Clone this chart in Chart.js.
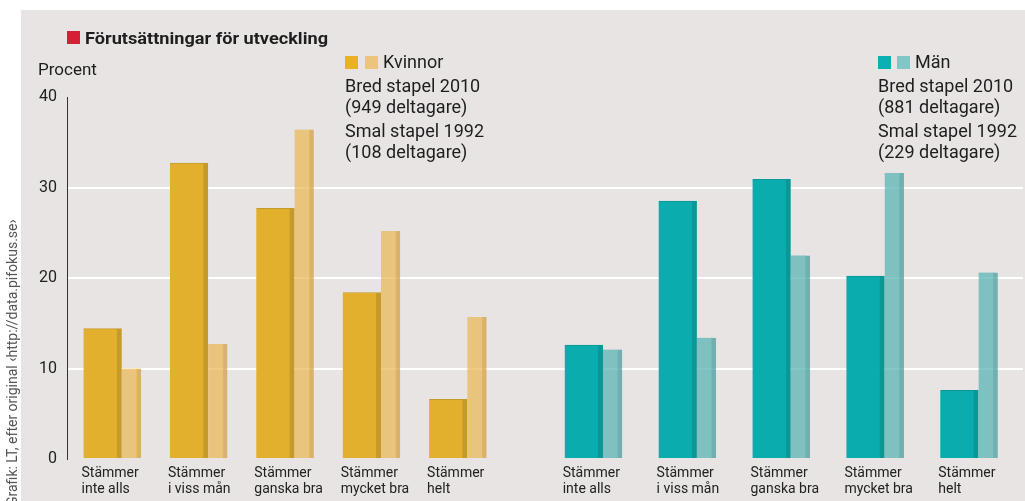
<!DOCTYPE html>
<html><head><meta charset="utf-8">
<script src="https://cdn.jsdelivr.net/npm/chart.js@4.4.1/dist/chart.umd.min.js"></script>
<style>
body{margin:0;background:#fff}
#wrap{position:relative;width:1025px;height:501px;overflow:hidden;background:#fff;font-family:Roboto,sans-serif;color:#1e1e1e}
#panel{position:absolute;left:21px;top:10px;right:0;bottom:0;background:#e7e4e3}
canvas{position:absolute;left:0;top:0}
.t{position:absolute;white-space:nowrap}
.sq{position:absolute;width:13px;height:13px}
.lg{font-size:18px;line-height:22px}
</style></head>
<body>
<div id="wrap">
<div id="panel"></div>
<canvas id="c" width="1025" height="501"></canvas>
<div class="sq" style="left:67px;top:31px;background:#d51f35"></div>
<div class="t" id="title" style="left:85px;top:28px;font-size:17px;font-weight:700;line-height:20px;transform-origin:left top">Förutsättningar för utveckling</div>
<div class="t" style="left:38px;top:59px;font-size:17px;line-height:20px">Procent</div>

<div class="sq" style="left:345px;top:56px;background:#e8b126"></div>
<div class="sq" style="left:365px;top:56px;background:#ecc57d"></div>
<div class="t lg" style="left:383px;top:51px">Kvinnor</div>
<div class="t lg" style="left:345px;top:75px">Bred stapel 2010</div>
<div class="t lg" style="left:345px;top:96px">(949 deltagare)</div>
<div class="t lg" style="left:345px;top:120px">Smal stapel 1992</div>
<div class="t lg" style="left:345px;top:141px">(108 deltagare)</div>

<div class="sq" style="left:878px;top:56px;background:#0ab0b4"></div>
<div class="sq" style="left:897px;top:56px;background:#82c6c8"></div>
<div class="t lg" style="left:915px;top:51px">Män</div>
<div class="t lg" style="left:878px;top:75px">Bred stapel 2010</div>
<div class="t lg" style="left:878px;top:96px">(881 deltagare)</div>
<div class="t lg" style="left:878px;top:120px">Smal stapel 1992</div>
<div class="t lg" style="left:878px;top:141px">(229 deltagare)</div>

<div class="t" style="left:4px;top:506px;font-size:14px;line-height:16px;color:#555;transform:rotate(-90deg);transform-origin:left top">Grafik: LT, efter original ‹http://data.pifokus.se›</div>
</div>
<script>
// ---- data ----
const categories = [
  ['Stämmer', 'inte alls'],
  ['Stämmer', 'i viss mån'],
  ['Stämmer', 'ganska bra'],
  ['Stämmer', 'mycket bra'],
  ['Stämmer', 'helt']
];
const women2010 = [14.4, 32.7, 27.7, 18.4, 6.6];
const women1992 = [10.0, 12.7, 36.4, 25.2, 15.7];
const men2010 = [12.6, 28.5, 30.9, 20.2, 7.6];
const men1992 = [12.1, 13.4, 22.5, 31.6, 20.6];
const yTicks = [0, 10, 20, 30, 40];

// fit title width
const title = document.getElementById('title');
const tw = title.getBoundingClientRect().width;
title.style.transform = 'scaleX(' + (243 / tw) + ')';

const LABEL_H = 42;
function sizer(h) {
  return s => { s.paddingLeft = 0; s.paddingRight = 0; s.height = h; };
}
function spacer(stack, w, order, h) {
  return {
    type: 'category', labels: [''], position: 'bottom', stack: stack, stackWeight: w, weight: order,
    display: true, grid: { display: false, drawTicks: false }, border: { display: false },
    ticks: { display: false }, afterFit: sizer(h)
  };
}
function catAxis(stack, w, order, showLabels) {
  const ax = {
    type: 'category', labels: categories, position: 'bottom', stack: stack, stackWeight: w, weight: order,
    offset: false, display: true,
    grid: { display: false, drawTicks: false }, border: { display: false },
    afterFit: sizer(showLabels ? LABEL_H : 0)
  };
  ax.ticks = showLabels ? {
    display: true, autoSkip: false, maxRotation: 0, minRotation: 0,
    align: 'start', labelOffset: -21, padding: 7, color: '#222',
    font: { family: 'Roboto', size: 14, lineHeight: 1.1 }
  } : { display: false };
  return ax;
}
function barSet(label, data, axis, thickness, bg, border, rightW, topW) {
  return {
    label: label, data: data, xAxisID: axis, grouped: false, clip: false,
    barThickness: thickness, backgroundColor: bg, borderColor: border,
    borderWidth: { left: 0, right: rightW, top: topW, bottom: 0 }, borderSkipped: false
  };
}

new Chart(document.getElementById('c'), {
  type: 'bar',
  data: {
    datasets: [
      barSet('Kvinnor 2010', women2010, 'xW', 38, '#e3b02e', '#c49a2b', 5, 1),
      barSet('Kvinnor 1992', women1992, 'xWn', 19, 'rgba(234,185,90,0.75)', 'rgba(212,159,71,0.75)', 4, 0),
      barSet('Män 2010', men2010, 'xM', 38, '#0aacad', '#0a9795', 5, 1),
      barSet('Män 1992', men1992, 'xMn', 19, 'rgba(92,180,180,0.75)', 'rgba(76,158,159,0.75)', 4, 0)
    ]
  },
  options: {
    responsive: false,
    animation: false,
    devicePixelRatio: 1,
    layout: { padding: { top: 97, right: 2, bottom: 0, left: 0 } },
    plugins: { legend: { display: false }, tooltip: { enabled: false }, title: { display: false } },
    scales: {
      y: {
        type: 'linear', position: 'left', min: yTicks[0], max: yTicks[yTicks.length - 1],
        afterBuildTicks: s => { s.ticks = yTicks.map(v => ({ value: v })); },
        afterFit: s => { s.width = 67; },
        ticks: { padding: 10, color: '#222', font: { family: 'Roboto', size: 16 } },
        grid: {
          drawTicks: false, lineWidth: 2,
          color: c => (c.tick && c.tick.value > yTicks[0] && c.tick.value < yTicks[yTicks.length - 1]) ? '#ffffff' : 'rgba(0,0,0,0)'
        },
        border: { display: true, color: '#333', width: 1 }
      },
      // wide bars (2010) + labels
      xPad1: spacer('x', 35.5, 1, LABEL_H),
      xW: catAxis('x', 345.6, 2, true),
      xGap1: spacer('x', 135.6, 3, LABEL_H),
      xM: catAxis('x', 375.6, 4, true),
      xEnd1: spacer('x', 63.7, 5, LABEL_H),
      // narrow bars (1992)
      xPad2: spacer('x2', 64.25, 6, 0),
      xWn: catAxis('x2', 345.6, 7, false),
      xGap2: spacer('x2', 135.6, 8, 0),
      xMn: catAxis('x2', 375.6, 9, false),
      xEnd2: spacer('x2', 34.95, 10, 0)
    }
  }
});
</script>
</body></html>
